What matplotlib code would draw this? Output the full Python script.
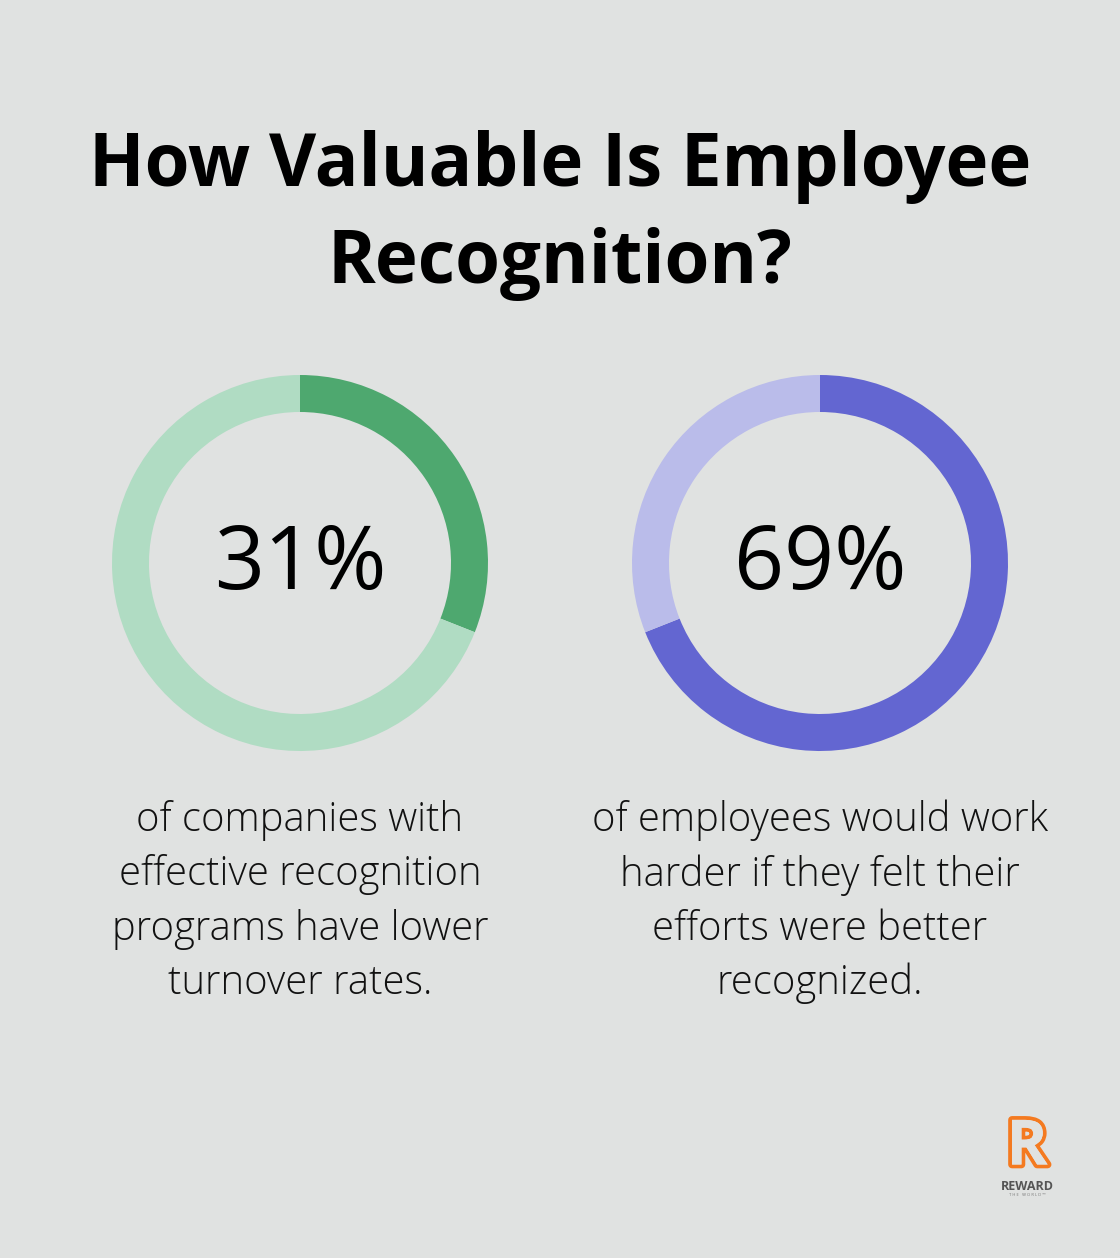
import matplotlib.pyplot as plt
from matplotlib import font_manager, patheffects

# D A T A -----------------------------------------------------------
title_lines = ["How Valuable Is Employee", "Recognition?"]
percents = [31, 69]
labels = ["31%", "69%"]
descriptions = [
    "of companies with\neffective recognition\nprograms have lower\nturnover rates.",
    "of employees would work\nharder if they felt their\nefforts were better\nrecognized.",
]
dark_colors = ["#4EA86F", "#6366D1"]
light_colors = ["#B0DCC3", "#BABCEA"]

BG = "#E0E2E1"
W, H = 1120, 1258

names = {f.name for f in font_manager.fontManager.ttflist}
FONT = "Open Sans" if "Open Sans" in names else "DejaVu Sans"

fig = plt.figure(figsize=(W / 100, H / 100), dpi=100, facecolor=BG)

# full-figure axes in pixel coordinates for text
bg = fig.add_axes([0, 0, 1, 1])
bg.set_xlim(0, W)
bg.set_ylim(H, 0)
bg.axis("off")

# title
bg.text(560, 186, title_lines[0], ha="center", va="baseline", fontsize=52.3,
        fontweight="bold", family=FONT, color="black")
bg.text(560, 283, title_lines[1], ha="center", va="baseline", fontsize=52.3,
        fontweight="bold", family=FONT, color="black")

centers_x = [300, 820]
cy = 563
R = 188
ring = 37

for i in range(2):
    cx = centers_x[i]
    ax = fig.add_axes([(cx - R) / W, (H - cy - R) / H, 2 * R / W, 2 * R / H])
    ax.pie([percents[i], 100 - percents[i]],
           colors=[dark_colors[i], light_colors[i]],
           startangle=90, counterclock=False, radius=1,
           wedgeprops=dict(width=ring / R, linewidth=0))
    ax.set_aspect("equal")
    ax.set_xlim(-1, 1)
    ax.set_ylim(-1, 1)
    ax.axis("off")

    bg.text(cx, 589, labels[i], ha="center", va="baseline", fontsize=63,
            family=FONT, fontweight="medium", color="black")
    bg.text(cx, 902, descriptions[i], ha="center", va="center", fontsize=28.8,
            family=FONT, fontweight="light", color="#111111", linespacing=1.42)

# logo
t = bg.text(1027, 1148, "R", ha="center", va="center", fontsize=45,
            fontweight="bold", family=FONT, color=BG)
t.set_path_effects([patheffects.withStroke(linewidth=5.5, foreground="#F47A20"),
                    patheffects.Normal()])
bg.text(1027, 1187, "REWARD", ha="center", va="center", fontsize=9,
        fontweight="bold", family=FONT, color="#555555")
bg.text(1027, 1195, "T H E   W O R L D ™", ha="center", va="center", fontsize=3,
        family=FONT, color="#777777")

fig.savefig("out.png", dpi=100, facecolor=BG)
